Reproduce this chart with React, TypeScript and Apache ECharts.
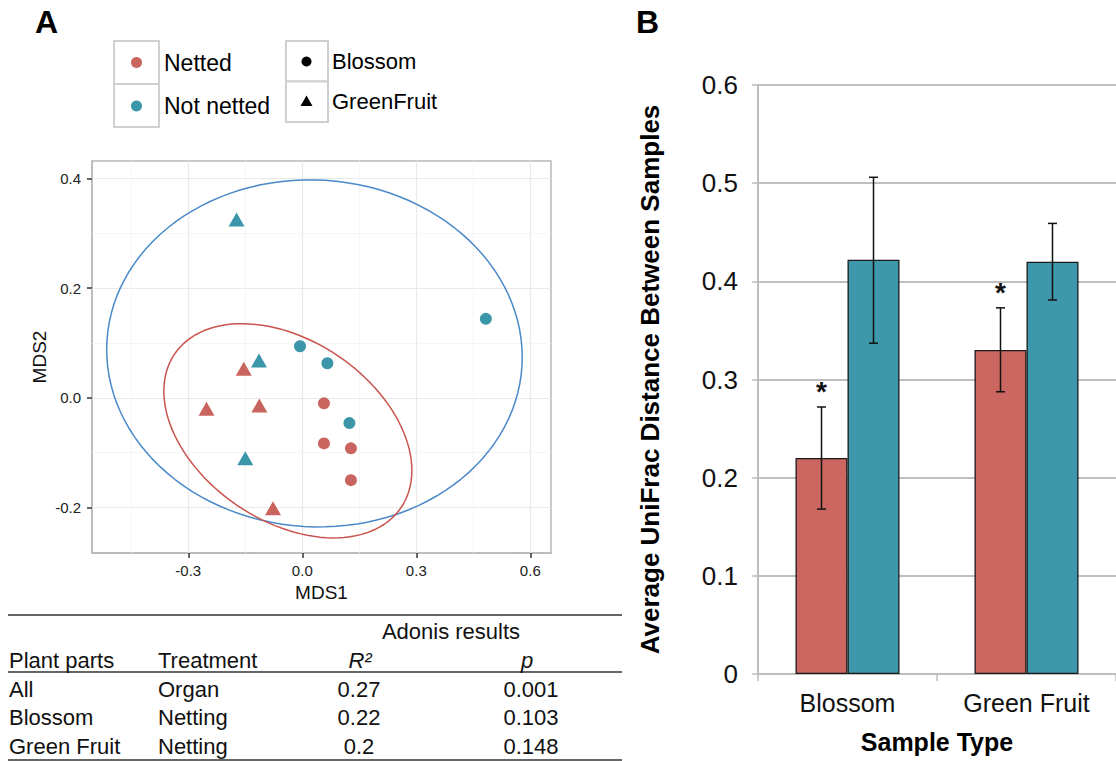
import React, { useEffect, useRef } from "react";
import * as echarts from "echarts";

// ---------- Panel A: MDS ordination ----------
const nettedBlossom = [[0.057, -0.010], [0.057, -0.083], [0.128, -0.092], [0.128, -0.150]];
const nettedGreenFruit = [[-0.154, 0.053], [-0.252, -0.020], [-0.113, -0.014], [-0.077, -0.201]];
const notNettedBlossom = [[0.483, 0.144], [-0.006, 0.094], [0.066, 0.063], [0.124, -0.046]];
const notNettedGreenFruit = [[-0.173, 0.325], [-0.114, 0.068], [-0.150, -0.110]];

// confidence ellipses: centre and shape matrix [sxx, sxy, syy]
const nettedEllipseCenter = [-0.038, -0.060];
const nettedEllipseShape = [0.1065, -0.0236, 0.0381];
const notNettedEllipseCenter = [0.032, 0.081];
const notNettedEllipseShape = [0.299, -0.0038, 0.1];

const xTicksA = [-0.3, 0, 0.3, 0.6];
const yTicksA = [-0.2, 0, 0.2, 0.4];
const xMinorA = [-0.45, -0.15, 0.15, 0.45];
const yMinorA = [-0.1, 0.1, 0.3];

const colorLegend = ["Netted", "Not netted"];
const shapeLegend = ["Blossom", "GreenFruit"];

// Adonis table
const tableHeader = ["Plant parts", "Treatment", "R²", "p"];
const tablePlantParts = ["All", "Blossom", "Green Fruit"];
const tableTreatment = ["Organ", "Netting", "Netting"];
const tableR2 = ["0.27", "0.22", "0.2"];
const tableP = ["0.001", "0.103", "0.148"];

// ---------- Panel B: UniFrac bars ----------
const sampleTypes = ["Blossom", "Green Fruit"];
const nettedMeans = [0.22, 0.33];
const notNettedMeans = [0.422, 0.42];
const nettedLower = [0.168, 0.2875];
const nettedUpper = [0.272, 0.373];
const notNettedLower = [0.337, 0.381];
const notNettedUpper = [0.506, 0.459];
const nettedSignificance = ["*", "*"];

const RED = "#C9655E";
const TEAL = "#3B96A9";
const FONT = "Liberation Sans, Arial, Helvetica, sans-serif";

function ellipsePoints(center: number[], shape: number[]) {
  const [sxx, sxy, syy] = shape;
  const l11 = Math.sqrt(sxx);
  const l21 = sxy / l11;
  const l22 = Math.sqrt(syy - l21 * l21);
  const pts: number[][] = [];
  const n = 120;
  for (let i = 0; i <= n; i++) {
    const t = (i / n) * Math.PI * 2;
    const c = Math.cos(t);
    const s = Math.sin(t);
    pts.push([center[0] + l11 * c, center[1] + l21 * c + l22 * s]);
  }
  return pts;
}

export default function App() {
  const ref = useRef<HTMLDivElement>(null);
  useEffect(() => {
    if (!ref.current) return;
    const chart = echarts.init(ref.current, null, { renderer: "svg" });

    const gridLineData: any[] = [
      ...xTicksA.map((v) => ({ xAxis: v })),
      ...yTicksA.map((v) => ({ yAxis: v })),
      ...xMinorA.map((v) => ({ xAxis: v, lineStyle: { color: "#f3f3f3", width: 0.8 } })),
      ...yMinorA.map((v) => ({ yAxis: v, lineStyle: { color: "#f3f3f3", width: 0.8 } })),
    ];

    const errorData = [
      ...sampleTypes.map((_, i) => [i, nettedLower[i], nettedUpper[i], 0]),
      ...sampleTypes.map((_, i) => [i, notNettedLower[i], notNettedUpper[i], 1]),
    ];
    const sigData = sampleTypes.map((_, i) => [i, nettedUpper[i], i]);

    // graphic: legends, table, panel letters
    const graphics: any[] = [];
    graphics.push({ type: "text", left: 35, top: 6, style: { text: "A", font: `bold 32px ${FONT}`, fill: "#000" } });
    graphics.push({ type: "text", left: 636, top: 6, style: { text: "B", font: `bold 32px ${FONT}`, fill: "#000" } });

    // colour legend
    const boxStroke = "#cfcfcf";
    [0, 1].forEach((i) => {
      graphics.push({ type: "rect", shape: { x: 114, y: 41 + i * 43, width: 45, height: 43 }, style: { fill: "#fff", stroke: boxStroke, lineWidth: 2 } });
      graphics.push({ type: "circle", shape: { cx: 136.5, cy: 62.5 + i * 43.5, r: 5.5 }, style: { fill: i === 0 ? RED : TEAL } });
      graphics.push({ type: "text", x: 164, y: 62.5 + i * 43.5, style: { text: colorLegend[i], font: `23px ${FONT}`, fill: "#000", verticalAlign: "middle" } });
    });
    // shape legend
    [0, 1].forEach((i) => {
      graphics.push({ type: "rect", shape: { x: 286, y: 41 + i * 40.5, width: 42, height: 40.5 }, style: { fill: "#fff", stroke: boxStroke, lineWidth: 2 } });
      graphics.push({ type: "text", x: 332, y: 61 + i * 40, style: { text: shapeLegend[i], font: `22px ${FONT}`, fill: "#000", verticalAlign: "middle" } });
    });
    graphics.push({ type: "circle", shape: { cx: 306.5, cy: 61.5, r: 5 }, style: { fill: "#000" } });
    graphics.push({ type: "polygon", shape: { points: [[300.5, 106], [312.5, 106], [306.5, 95.5]] }, style: { fill: "#000" } });

    // table
    const lineStyle = { stroke: "#333", lineWidth: 1.3 };
    [615, 672, 760].forEach((y) => {
      graphics.push({ type: "line", shape: { x1: 8, y1: y, x2: 622, y2: y }, style: lineStyle });
    });
    const tFont = `22px ${FONT}`;
    const tItal = `italic 22px ${FONT}`;
    graphics.push({ type: "text", x: 451, y: 631, style: { text: "Adonis results", font: tFont, fill: "#111", align: "center", verticalAlign: "middle" } });
    graphics.push({ type: "text", x: 9, y: 660, style: { text: tableHeader[0], font: tFont, fill: "#111", verticalAlign: "middle" } });
    graphics.push({ type: "text", x: 158, y: 660, style: { text: tableHeader[1], font: tFont, fill: "#111", verticalAlign: "middle" } });
    graphics.push({ type: "text", x: 360, y: 660, style: { text: tableHeader[2], font: tItal, fill: "#111", align: "center", verticalAlign: "middle" } });
    graphics.push({ type: "text", x: 527, y: 660, style: { text: tableHeader[3], font: tItal, fill: "#111", align: "center", verticalAlign: "middle" } });
    const rowY = [689, 717.5, 746];
    tablePlantParts.forEach((_, i) => {
      graphics.push({ type: "text", x: 9, y: rowY[i], style: { text: tablePlantParts[i], font: tFont, fill: "#111", verticalAlign: "middle" } });
      graphics.push({ type: "text", x: 158, y: rowY[i], style: { text: tableTreatment[i], font: tFont, fill: "#111", verticalAlign: "middle" } });
      graphics.push({ type: "text", x: 359, y: rowY[i], style: { text: tableR2[i], font: tFont, fill: "#111", align: "center", verticalAlign: "middle" } });
      graphics.push({ type: "text", x: 531, y: rowY[i], style: { text: tableP[i], font: tFont, fill: "#111", align: "center", verticalAlign: "middle" } });
    });

    const option: any = {
      animation: false,
      backgroundColor: "#fff",
      textStyle: { fontFamily: FONT },
      grid: [
        { left: 92, top: 161, width: 459, height: 392, show: true, borderColor: "#b8b8b8", borderWidth: 1.5, backgroundColor: "#fff" },
        { left: 758, top: 85, width: 366, height: 589 },
      ],
      xAxis: [
        {
          type: "value", gridIndex: 0, min: -0.5534, max: 0.6545,
          splitLine: { show: false },
          axisLine: { show: true, onZero: false, lineStyle: { color: "#b8b8b8", width: 1.5 } },
          axisTick: { show: true, length: 5, customValues: xTicksA, lineStyle: { color: "#333", width: 1.5 } },
          axisLabel: { customValues: xTicksA, formatter: (v: number) => v.toFixed(1), fontSize: 15, color: "#222", margin: 10 },
          name: "MDS1", nameLocation: "middle", nameGap: 28, nameTextStyle: { fontSize: 19, color: "#111" },
        },
        {
          type: "category", gridIndex: 1, data: sampleTypes,
          axisLine: { show: true, lineStyle: { color: "#bdbdbd", width: 2 } },
          axisTick: { show: true, length: 7, alignWithLabel: false, lineStyle: { color: "#bdbdbd", width: 1.5 } },
          axisLabel: { fontSize: 25, color: "#111", margin: 16 },
          name: "Sample Type", nameLocation: "middle", nameGap: 55,
          nameTextStyle: { fontSize: 25, fontWeight: "bold", color: "#000" },
        },
      ],
      yAxis: [
        {
          type: "value", gridIndex: 0, min: -0.2827, max: 0.4316,
          splitLine: { show: false },
          axisLine: { show: true, onZero: false, lineStyle: { color: "#b8b8b8", width: 1.5 } },
          axisTick: { show: true, length: 5, customValues: yTicksA, lineStyle: { color: "#333", width: 1.5 } },
          axisLabel: { customValues: yTicksA, formatter: (v: number) => v.toFixed(1), fontSize: 15, color: "#222", margin: 11 },
          name: "MDS2", nameLocation: "middle", nameGap: 43, nameRotate: 90, nameTextStyle: { fontSize: 19, color: "#111" },
        },
        {
          type: "value", gridIndex: 1, min: 0, max: 0.6, interval: 0.1,
          splitLine: { show: true, lineStyle: { color: "#aaaaaa", width: 1.5 } },
          axisLine: { show: true, lineStyle: { color: "#bdbdbd", width: 2 } },
          axisTick: { show: true, length: 6, lineStyle: { color: "#bdbdbd", width: 1.5 } },
          axisLabel: { fontSize: 26, color: "#111", margin: 20, formatter: (v: number) => (v === 0 ? "0" : v.toFixed(1)) },
          name: "Average UniFrac Distance Between Samples", nameLocation: "middle", nameGap: 95,
          nameTextStyle: { fontSize: 26, fontWeight: "bold", color: "#000" },
        },
      ],
      series: [
        {
          name: "gridlines", type: "line", xAxisIndex: 0, yAxisIndex: 0, data: [], silent: true,
          markLine: { silent: true, z: 1, symbol: ["none", "none"], label: { show: false }, animation: false,
            lineStyle: { color: "#e9e9e9", width: 1.2, type: "solid" }, data: gridLineData },
        },
        {
          name: "Not netted ellipse", type: "line", xAxisIndex: 0, yAxisIndex: 0, z: 3, showSymbol: false, silent: true,
          data: ellipsePoints(notNettedEllipseCenter, notNettedEllipseShape), lineStyle: { color: "#4A89C9", width: 1.5 },
        },
        {
          name: "Netted ellipse", type: "line", xAxisIndex: 0, yAxisIndex: 0, z: 3, showSymbol: false, silent: true,
          data: ellipsePoints(nettedEllipseCenter, nettedEllipseShape), lineStyle: { color: "#C9534D", width: 1.5 },
        },
        { name: "Netted Blossom", type: "scatter", xAxisIndex: 0, yAxisIndex: 0, z: 4, symbol: "circle", symbolSize: 12, data: nettedBlossom, itemStyle: { color: RED, opacity: 1 } },
        { name: "Netted GreenFruit", type: "scatter", xAxisIndex: 0, yAxisIndex: 0, z: 4, symbol: "triangle", symbolSize: [16, 14], data: nettedGreenFruit, itemStyle: { color: RED, opacity: 1 } },
        { name: "Not netted Blossom", type: "scatter", xAxisIndex: 0, yAxisIndex: 0, z: 4, symbol: "circle", symbolSize: 12, data: notNettedBlossom, itemStyle: { color: TEAL, opacity: 1 } },
        { name: "Not netted GreenFruit", type: "scatter", xAxisIndex: 0, yAxisIndex: 0, z: 4, symbol: "triangle", symbolSize: [16, 14], data: notNettedGreenFruit, itemStyle: { color: TEAL, opacity: 1 } },
        {
          name: "Netted", type: "bar", xAxisIndex: 1, yAxisIndex: 1, barWidth: 52, barGap: "0%", data: nettedMeans,
          itemStyle: { color: "#CC6660", borderColor: "#1a1a1a", borderWidth: 1.3 },
        },
        {
          name: "Not netted", type: "bar", xAxisIndex: 1, yAxisIndex: 1, barWidth: 52, barGap: "0%", data: notNettedMeans,
          itemStyle: { color: "#3D98AC", borderColor: "#1a1a1a", borderWidth: 1.3 },
        },
        {
          name: "error bars", type: "custom", xAxisIndex: 1, yAxisIndex: 1, z: 5, silent: true,
          data: errorData, encode: { x: 0, y: [1, 2] },
          renderItem: (params: any, api: any) => {
            const idx = api.value(0);
            const lo = api.coord([idx, api.value(1)]);
            const hi = api.coord([idx, api.value(2)]);
            const off = api.value(3) === 0 ? -26 : 26;
            const x = lo[0] + off;
            const st = { stroke: "#111", lineWidth: 1.5 };
            return {
              type: "group",
              children: [
                { type: "line", shape: { x1: x, y1: lo[1], x2: x, y2: hi[1] }, style: st },
                { type: "line", shape: { x1: x - 4.5, y1: lo[1], x2: x + 4.5, y2: lo[1] }, style: st },
                { type: "line", shape: { x1: x - 4.5, y1: hi[1], x2: x + 4.5, y2: hi[1] }, style: st },
              ],
            };
          },
        },
        {
          name: "significance", type: "custom", xAxisIndex: 1, yAxisIndex: 1, z: 5, silent: true,
          data: sigData, encode: { x: 0, y: 1 },
          renderItem: (params: any, api: any) => {
            const idx = api.value(0);
            const p = api.coord([idx, api.value(1)]);
            return {
              type: "text", x: p[0] - 26, y: p[1] - 1,
              style: { text: nettedSignificance[api.value(2)], font: `bold 28px ${FONT}`, fill: "#111", align: "center", verticalAlign: "bottom" },
            };
          },
        },
      ],
      graphic: graphics,
    };
    chart.setOption(option);
    return () => chart.dispose();
  }, []);
  return <div ref={ref} style={{ position: "absolute", left: 0, top: 0, width: 1116, height: 761 }} />;
}
